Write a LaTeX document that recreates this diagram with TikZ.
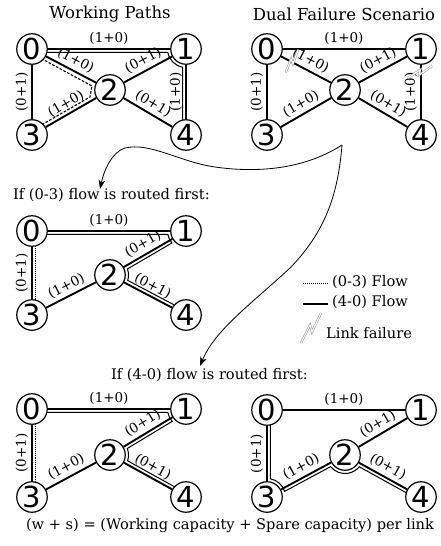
\documentclass[tikz,border=0pt]{standalone}
\usepackage{fontspec}
\setmainfont{DejaVu Serif}
\newfontfamily\numfont{DejaVu Sans}
\usetikzlibrary{calc,arrows.meta,backgrounds}

\tikzset{
  vtx/.style={circle, draw, line width=1.2pt, fill=white, minimum size=30.5pt,
    inner sep=0pt, font=\numfont\fontsize{29}{29}\selectfont},
  edge/.style={line width=1.9pt},
  flow/.style={line width=1.0pt},
  flowdash/.style={line width=1.1pt, dash pattern=on 2.6pt off 1.6pt},
  flowdot/.style={line width=1.0pt, dash pattern=on 1pt off 0.9pt},
  lab/.style={midway, sloped, above, inner sep=3pt, font=\fontsize{13.5}{13.5}\selectfont},
  vlab/.style={midway, rotate=90, anchor=south, inner sep=3pt, font=\fontsize{13.5}{13.5}\selectfont},
  title/.style={font=\fontsize{16.5}{16.5}\selectfont},
  txt/.style={font=\fontsize{14.6}{14.6}\selectfont, inner sep=0pt},
  boltline/.style={draw=gray!85, double=white, line width=0.5pt, double distance=1.1pt},
  arr/.style={line width=0.8pt, -{Stealth[length=9pt, width=6.5pt, inset=2.5pt]}},
}

% five nodes of one network: prefix, x, y of node 0, y of node 2, y of nodes 3/4
\newcommand\netnodes[5]{%
  \begin{scope}[shift={(#2,#3)}]
    \node[vtx] (#1-0) at (0,0) {0};
    \node[vtx] (#1-1) at (154,0) {1};
    \node[vtx] (#1-2) at (78,#4) {2};
    \node[vtx] (#1-3) at (0,#5) {3};
    \node[vtx] (#1-4) at (154,#5) {4};
  \end{scope}}

% line running beside the edge from #2 to #3, shifted by #4 (positive = left of travel)
\newcommand\flowline[4][flow]{%
  \draw[#1] ($(#2)!#4!90:(#3)$) -- ($(#3)!#4!-90:(#2)$);}

% link failure mark: position, rotation, scale
\newcommand\boltmark[3]{%
  \begin{scope}[shift={#1}, rotate=#2, scale=#3]
    \draw[boltline] (-10,15) -- (-1,-3) -- (1,4) -- (10,-15);
  \end{scope}}

\def\wr{18.5}

\begin{document}
\begin{tikzpicture}[x=1pt, y=-1pt]
\useasboundingbox (0,0) rectangle (440,546);

% ---------- titles ----------
\node[title] (t1) at (110,14) {Working Paths};
\node[title] (t2) at (344,14) {Dual Failure Scenario};

% ---------- nodes ----------
\netnodes{A}{32}{49}{41}{86}
\netnodes{B}{267}{49}{41}{86}
\netnodes{C}{32}{231}{44}{84}
\netnodes{D}{32}{409}{46}{88}
\netnodes{E}{267}{410}{45}{87}

\begin{pgfonlayer}{background}
% ---------- working paths ----------
\draw[edge] (A-0) -- node[lab]{(1+0)} (A-1);
\draw[edge] (A-0) -- node[lab]{(1+0)} (A-2);
\draw[edge] (A-3) -- node[vlab]{(0+1)} (A-0);
\draw[edge] (A-2) -- node[lab]{(0+1)} (A-1);
\draw[edge] (A-3) -- node[lab]{(1+0)} (A-2);
\draw[edge] (A-2) -- node[lab]{(0+1)} (A-4);
\draw[edge] (A-4) -- node[vlab]{(1+0)} (A-1);
% (4-0) flow: 4 -> 1 -> 0
\draw[flow] ($(A-0)!-3.4pt!90:(A-1)$) -- ($(A-1)+(-190.6:\wr)$)
  arc[start angle=-190.6, end angle=-259.4, radius=\wr]
  -- ($(A-4)!-3.4pt!-90:(A-1)$);
% (0-3) flow: 0 -> 2 -> 3
\draw[flowdash] ($(A-0)!-4pt!90:(A-2)$) -- ($(A-2)+(-18,-4)$) -- ($(A-2)+(-20,7)$) -- ($(A-3)!-4pt!-90:(A-2)$);

% ---------- dual failure ----------
\draw[edge] (B-0) -- node[lab]{(1+0)} (B-1);
\draw[edge] (B-0) -- node[lab]{(1+0)} (B-2);
\draw[edge] (B-3) -- node[vlab]{(0+1)} (B-0);
\draw[edge] (B-2) -- node[lab]{(0+1)} (B-1);
\draw[edge] (B-3) -- node[lab]{(1+0)} (B-2);
\draw[edge] (B-2) -- node[lab]{(0+1)} (B-4);
\draw[edge] (B-4) -- node[vlab]{(1+0)} (B-1);

% ---------- (0-3) routed first ----------
\draw[edge] (C-0) -- node[lab]{(1+0)} (C-1);
\draw[edge] (C-3) -- node[vlab]{(0+1)} (C-0);
\draw[edge] (C-2) -- node[lab]{(0+1)} (C-1);
\draw[edge] (C-3) -- node[lab]{(1+0)} (C-2);
\draw[edge] (C-2) -- node[lab]{(0+1)} (C-4);
\draw[flow] ($(C-0)!-3.4pt!90:(C-1)$) -- ($(C-1)+(-190.6:\wr)$)
  arc[start angle=-190.6, end angle=-220.3, radius=\wr]
  -- ($(C-2)+(-19.1:\wr)$)
  arc[start angle=-19.1, end angle=16.9, radius=\wr]
  -- ($(C-4)!3.4pt!-90:(C-2)$);
\flowline[flowdot]{C-0}{C-3}{3.6pt}

% ---------- (4-0) routed first, left ----------
\draw[edge] (D-0) -- node[lab]{(1+0)} (D-1);
\draw[edge] (D-3) -- node[vlab]{(0+1)} (D-0);
\draw[edge] (D-2) -- node[lab]{(0+1)} (D-1);
\draw[edge] (D-3) -- node[lab]{(1+0)} (D-2);
\draw[edge] (D-2) -- node[lab]{(0+1)} (D-4);
\draw[flow] ($(D-0)!-3.4pt!90:(D-1)$) -- ($(D-1)+(-190.6:\wr)$)
  arc[start angle=-190.6, end angle=-221.8, radius=\wr]
  -- ($(D-2)+(-20.6:\wr)$)
  arc[start angle=-20.6, end angle=18.3, radius=\wr]
  -- ($(D-4)!3.4pt!-90:(D-2)$);
\flowline[flowdot]{D-0}{D-3}{3.6pt}

% ---------- (4-0) routed first, right ----------
\draw[edge] (E-0) -- node[lab]{(1+0)} (E-1);
\draw[edge] (E-3) -- node[vlab]{(0+1)} (E-0);
\draw[edge] (E-2) -- node[lab]{(0+1)} (E-1);
\draw[edge] (E-3) -- node[lab]{(1+0)} (E-2);
\draw[edge] (E-2) -- node[lab]{(0+1)} (E-4);
\draw[flow] ($(E-0)!3.4pt!90:(E-3)$) -- ($(E-3)+(-79.4:\wr)$)
  arc[start angle=-79.4, end angle=-17.7, radius=\wr]
  -- ($(E-2)+(-218.9:\wr)$)
  arc[start angle=-218.9, end angle=-320.5, radius=\wr]
  -- ($(E-4)!-3.4pt!-90:(E-2)$);
\end{pgfonlayer}

% ---------- link failures ----------
\boltmark{(292,61)}{5}{0.72}
\boltmark{(420,72)}{-30}{0.75}

% ---------- captions ----------
\node[txt, anchor=west] (c1) at (13,195) {If (0-3) flow is routed first:};
\node[txt, anchor=west] (c2) at (111,375) {If (4-0) flow is routed first:};

% ---------- arrows ----------
\coordinate (src) at (342,145);
\coordinate (tipA) at (100,189);
\coordinate (tipB) at (200,366);
\draw[arr] (src) .. controls (300,172) and (250,172) .. (215,167)
  .. controls (180,162) and (150,142) .. (125,148)
  .. controls (112,152) and (104,170) .. (tipA);
\draw[arr] (src) .. controls (338,195) and (325,232) .. (290,268)
  .. controls (250,305) and (215,330) .. (tipB);

% ---------- legend ----------
\coordinate (l1a) at (303,283);
\coordinate (l1b) at (328,283);
\coordinate (l2a) at (303,304);
\coordinate (l2b) at (328,304);
\draw[line width=1pt, dash pattern=on 1pt off 1pt] (l1a) -- (l1b);
\draw[line width=1.8pt] (l2a) -- (l2b);
\node[txt, anchor=west] (lg1) at (332,282) {(0-3) Flow};
\node[txt, anchor=west] (lg2) at (332,302) {(4-0) Flow};
\boltmark{(311,328)}{0}{1}
\node[txt, anchor=west] (lg3) at (326,333) {Link failure};

% ---------- footnote ----------
\node[txt] (foot) at (230,526) {(w + s) = (Working capacity + Spare capacity) per link};
\end{tikzpicture}
\end{document}
